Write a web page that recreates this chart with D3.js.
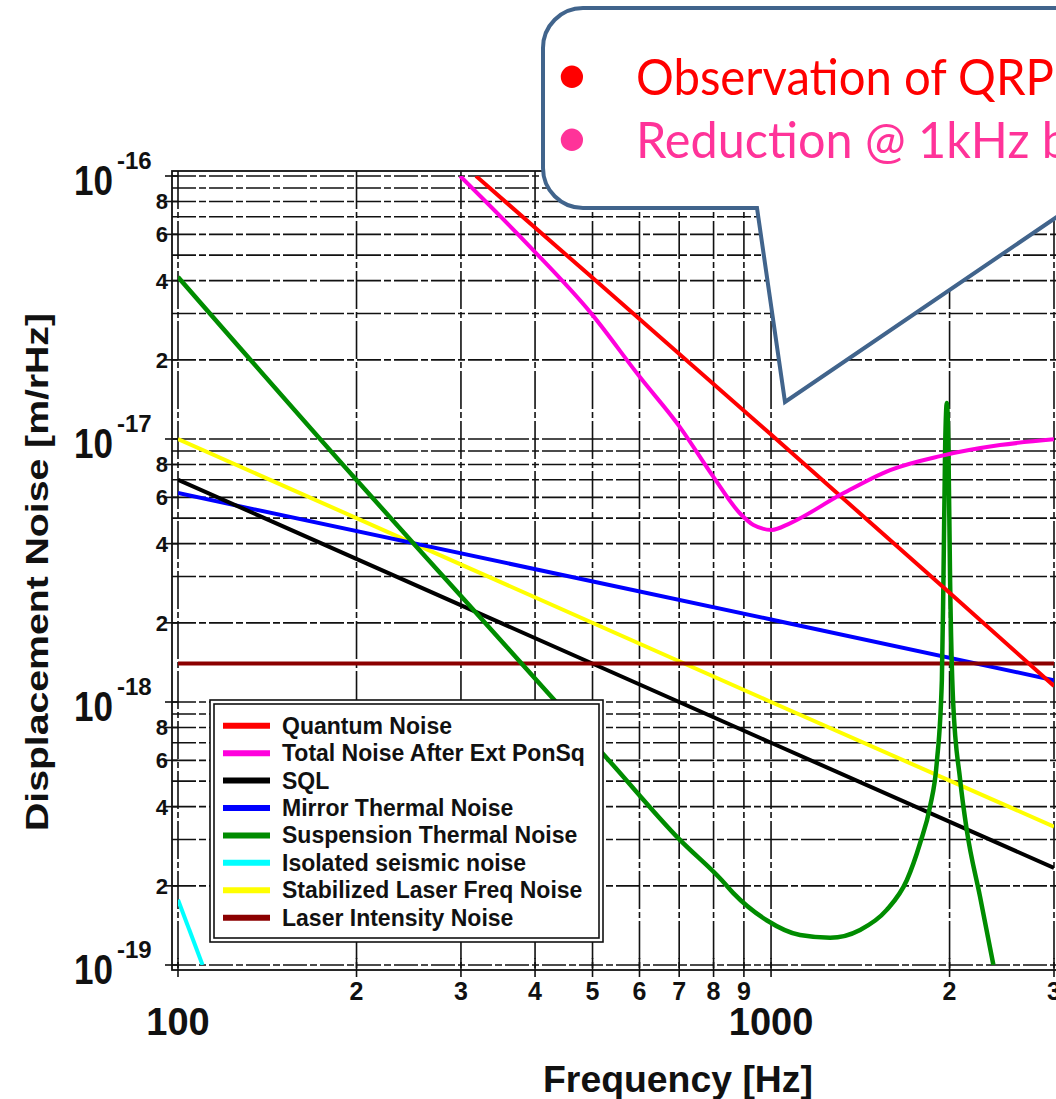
<!DOCTYPE html>
<html>
<head>
<meta charset="utf-8">
<script src="https://cdn.jsdelivr.net/npm/d3@7"></script>
<style>
  html, body { margin: 0; padding: 0; background: #fff; }
  svg { display: block; font-family: "Liberation Sans", Arial, sans-serif; font-weight: bold; }
</style>
</head>
<body>
<div id="chart"></div>
<script>
// Noise curves, [frequency Hz, displacement m/rHz]
const quantumNoise = [[318, 1.0e-16], [500, 4.1e-17], [1000, 1.04e-17], [2000, 2.6e-18], [3000, 1.15e-18]];
const totalNoisePonSq = [[299, 1.0e-16], [392, 5.39e-17], [497, 3.01e-17], [601, 1.72e-17], [702, 1.11e-17],
  [799, 7.19e-18], [886, 5.22e-18], [934, 4.71e-18], [1003, 4.51e-18], [1076, 4.78e-18], [1307, 6.12e-18],
  [1588, 7.62e-18], [1928, 8.61e-18], [2433, 9.48e-18], [3000, 9.97e-18]];
const sql = [[100, 7.0e-18], [1000, 7.0e-19], [3000, 2.34e-19]];
const mirrorThermal = [[100, 6.23e-18], [1000, 2.06e-18], [3000, 1.21e-18]];
const suspensionThermal = [[100, 4.13e-17], [200, 6.98e-18], [300, 2.53e-18], [421, 1.08e-18], [532, 6.02e-19],
  [702, 2.99e-19], [826, 2.10e-19], [863, 1.88e-19], [983, 1.48e-19], [1119, 1.30e-19], [1258, 1.27e-19],
  [1413, 1.36e-19], [1567, 1.62e-19], [1694, 2.10e-19], [1784, 2.91e-19], [1854, 4.00e-19], [1903, 5.87e-19],
  [1941, 1.21e-18], [1953, 2.91e-18], [1966, 9.35e-18], [1979, 1.37e-17], [1991, 9.35e-18], [2004, 2.91e-18],
  [2027, 1.02e-18], [2084, 5.05e-19], [2138, 3.26e-19], [2251, 1.82e-19], [2371, 1.0e-19]];
const seismic = [[100, 1.77e-19], [110, 1.0e-19]];
const laserFreq = [[100, 1.0e-17], [1000, 1.0e-18], [3000, 3.36e-19]];
const laserIntensity = [[100, 1.4e-18], [3000, 1.4e-18]];

const seriesNames = ["Quantum Noise", "Total Noise After Ext PonSq", "SQL", "Mirror Thermal Noise",
  "Suspension Thermal Noise", "Isolated seismic noise", "Stabilized Laser Freq Noise", "Laser Intensity Noise"];
const seriesColors = ["#ff0000", "#ff00dd", "#000000", "#0000ff", "#008c00", "#00ffff", "#ffff00", "#8b0000"];
const seriesData = [quantumNoise, totalNoisePonSq, sql, mirrorThermal, suspensionThermal, seismic, laserFreq, laserIntensity];
// drawing order (legend order differs)
const drawOrder = [6, 3, 2, 7, 4, 5, 0, 1];

// Axis ticks
const xMinorTicks = [200, 300, 400, 500, 600, 700, 800, 900, 2000, 3000];
const xMinorLabels = ["2", "3", "4", "5", "6", "7", "8", "9", "2", "3"];
const xDecades = [100, 1000];
const xDecadeLabels = ["100", "1000"];
const yDecades = [1e-16, 1e-17, 1e-18, 1e-19];
const yDecadeExp = ["-16", "-17", "-18", "-19"];
const yMinorMult = [2, 4, 6, 8];

const calloutLines = ["Observation of QRP", "Reduction @ 1kHz b"];
const calloutColors = ["#ff0000", "#ff3399"];

const W = 1056, H = 1099;
const svg = d3.select("#chart").append("svg").attr("width", W).attr("height", H);
svg.append("rect").attr("width", W).attr("height", H).attr("fill", "#fff");

const x = d3.scaleLog().domain([100, 3000]).range([178, 1054]);
const y = d3.scaleLog().domain([1e-19, 1e-16]).range([965, 176]);

// grid values
const xGrid = [];
for (let k = 1; k <= 9; k++) xGrid.push(k * 100);
xGrid.push(1000, 2000, 3000);
const yGrid = [1e-16];
[-19, -18, -17].forEach((e) => { for (let k = 1; k <= 9; k++) yGrid.push(k * Math.pow(10, e)); });

const grid = svg.append("g").attr("stroke", "#111").attr("stroke-width", 1.6).attr("fill", "none");
grid.selectAll("line.h").data(yGrid).enter().append("line")
  .attr("class", "h")
  .attr("x1", 172).attr("x2", 1062)
  .attr("y1", (d) => y(d)).attr("y2", (d) => y(d))
  .attr("stroke-dasharray", "24,3,7,3");
grid.selectAll("line.v").data(xGrid).enter().append("line")
  .attr("class", "v")
  .attr("x1", (d) => x(d)).attr("x2", (d) => x(d))
  .attr("y1", 171).attr("y2", 970)
  .attr("stroke-dasharray", "38,3,6,3");

// outer frame
svg.append("rect")
  .attr("x", x(100) - 6).attr("y", y(1e-16) - 5)
  .attr("width", x(3000) - x(100) + 12).attr("height", y(1e-19) - y(1e-16) + 10)
  .attr("fill", "none").attr("stroke", "#111").attr("stroke-width", 1.8);

// tick marks outside the frame
const yMinorVals = [];
[-19, -18, -17].forEach((e) => yMinorMult.forEach((k) => yMinorVals.push(k * Math.pow(10, e))));
svg.append("g").selectAll("line").data(yMinorVals.concat(yDecades)).enter().append("line")
  .attr("x1", 165).attr("x2", 178)
  .attr("y1", (d) => y(d)).attr("y2", (d) => y(d))
  .attr("stroke", "#111").attr("stroke-width", 1.6);
svg.append("g").selectAll("line").data(xMinorTicks.concat(xDecades)).enter().append("line")
  .attr("x1", (d) => x(d)).attr("x2", (d) => x(d))
  .attr("y1", 958).attr("y2", 977)
  .attr("stroke", "#111").attr("stroke-width", 1.6);

// curves
svg.append("clipPath").attr("id", "plotclip").append("rect")
  .attr("x", x(100)).attr("y", y(1e-16))
  .attr("width", x(3000) - x(100)).attr("height", y(1e-19) - y(1e-16));

const line = d3.line()
  .x((d) => x(d[0]))
  .y((d) => y(d[1]))
  .curve(d3.curveMonotoneX);

const curves = svg.append("g").attr("clip-path", "url(#plotclip)");
drawOrder.forEach((i) => {
  curves.append("path")
    .datum(seriesData[i])
    .attr("d", line)
    .attr("fill", "none")
    .attr("stroke", seriesColors[i])
    .attr("stroke-width", i === 4 ? 4.5 : 4)
    .attr("stroke-linejoin", "round");
});

// legend
const legend = svg.append("g");
legend.append("rect").attr("x", 210).attr("y", 700).attr("width", 393).attr("height", 242)
  .attr("fill", "#fff").attr("stroke", "#111").attr("stroke-width", 1.6);
legend.append("rect").attr("x", 214).attr("y", 704).attr("width", 385).attr("height", 234)
  .attr("fill", "none").attr("stroke", "#111").attr("stroke-width", 1.6);
const rowY = d3.scalePoint().domain(d3.range(seriesNames.length)).range([725.7, 917.7]);
const rows = legend.selectAll("g.row").data(seriesNames).enter().append("g")
  .attr("transform", (d, i) => `translate(0,${rowY(i)})`);
rows.append("line").attr("x1", 223).attr("x2", 270).attr("y1", 0).attr("y2", 0)
  .attr("stroke", (d, i) => seriesColors[i]).attr("stroke-width", 6);
rows.append("text").attr("x", 282).attr("y", 8).attr("font-size", 23).attr("fill", "#111")
  .text((d) => d);

// y tick labels
svg.append("g").selectAll("text").data(yMinorVals).enter().append("text")
  .attr("x", 168).attr("y", (d) => y(d) + 8)
  .attr("text-anchor", "end").attr("font-size", 22).attr("fill", "#111")
  .text((d) => String(Math.round(d / Math.pow(10, Math.floor(Math.log10(d) + 1e-9)))));

const decG = svg.append("g").selectAll("g").data(yDecades).enter().append("g");
decG.append("text")
  .attr("x", 74).attr("y", (d) => y(d) + 19)
  .attr("font-size", 42).attr("fill", "#111")
  .attr("textLength", 39).attr("lengthAdjust", "spacingAndGlyphs")
  .text("10");
decG.append("text")
  .attr("x", 117).attr("y", (d) => y(d) - 7)
  .attr("font-size", 24).attr("fill", "#111")
  .text((d, i) => yDecadeExp[i]);

// x tick labels
svg.append("g").selectAll("text").data(xMinorTicks).enter().append("text")
  .attr("x", (d) => x(d)).attr("y", 1000)
  .attr("text-anchor", "middle").attr("font-size", 25).attr("fill", "#111")
  .text((d, i) => xMinorLabels[i]);
svg.append("g").selectAll("text").data(xDecades).enter().append("text")
  .attr("x", (d) => x(d)).attr("y", 1035)
  .attr("text-anchor", "middle").attr("font-size", 38).attr("fill", "#111")
  .text((d, i) => xDecadeLabels[i]);

// axis titles
svg.append("text")
  .attr("x", 543).attr("y", 1092)
  .attr("font-size", 36).attr("fill", "#111")
  .attr("textLength", 270).attr("lengthAdjust", "spacingAndGlyphs")
  .text("Frequency [Hz]");
svg.append("text")
  .attr("transform", "translate(48,572) rotate(-90)")
  .attr("text-anchor", "middle")
  .attr("font-size", 32).attr("fill", "#111")
  .attr("textLength", 518).attr("lengthAdjust", "spacingAndGlyphs")
  .text("Displacement Noise [m/rHz]");

// callout
const callout = svg.append("g");
callout.append("path")
  .attr("d", "M583,8 H1100 V208 H1070 L785,402 L757,208 H583 A40,40 0 0 1 543,168 V48 A40,40 0 0 1 583,8 Z")
  .attr("fill", "#fff").attr("stroke", "#41648c").attr("stroke-width", 4).attr("stroke-linejoin", "miter");
const cText = callout.selectAll("g").data(calloutLines).enter().append("g")
  .attr("font-family", "Lato, 'Open Sans', sans-serif").attr("font-weight", "normal")
  .attr("fill", (d, i) => calloutColors[i]);
cText.append("text")
  .attr("x", 572).attr("y", (d, i) => 95 + i * 63)
  .attr("text-anchor", "middle").attr("font-size", 60)
  .text("\u2022");
cText.append("text")
  .attr("x", 636).attr("y", (d, i) => 95 + i * 63)
  .attr("font-size", 50)
  .attr("textLength", (d, i) => (i === 0 ? 418 : 433)).attr("lengthAdjust", "spacingAndGlyphs")
  .text((d) => d);
</script>
</body>
</html>
